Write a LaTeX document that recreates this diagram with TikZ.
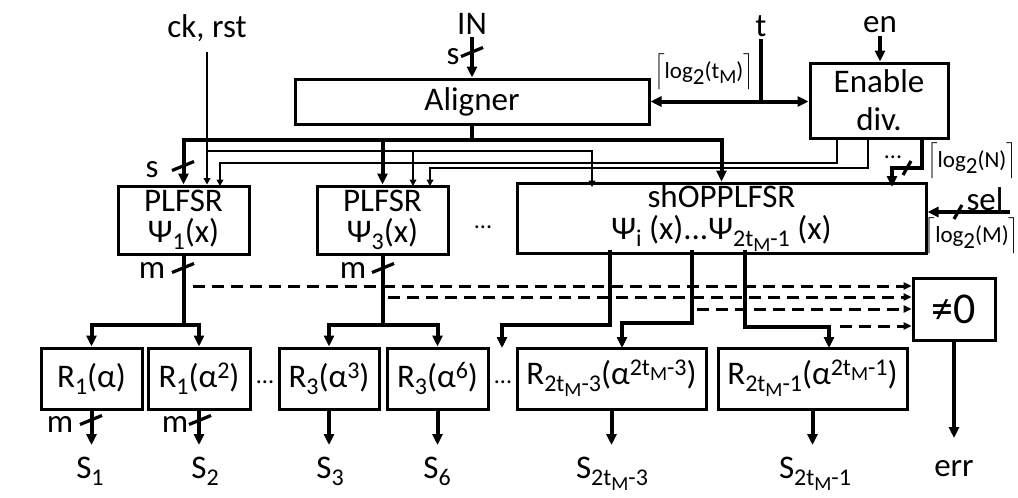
\documentclass[tikz,border=0pt]{standalone}
\usepackage{fontspec}
\setmainfont{Carlito}
\usetikzlibrary{positioning,arrows.meta,calc}
\newcommand{\lowtxt}[1]{\raisebox{-3.5pt}{\fontsize{12}{12}\selectfont #1}}
\newcommand{\hightxt}[1]{\raisebox{4.5pt}{\fontsize{12}{12}\selectfont #1}}
\newcommand{\tinysub}[1]{\raisebox{-2.5pt}{\fontsize{10}{10}\selectfont #1}}
\newcommand{\ceillbl}[1]{$\left\lceil\rule[-4pt]{0pt}{16pt}\hbox{\fontsize{11.5}{11.5}\selectfont #1}\right\rceil$}
\newcommand{\vslash}[1]{\draw[line width=1.6pt] ($(#1)+(-11,4.5)$) -- ($(#1)+(11,-4.5)$);}
\newcommand{\hslash}[1]{\draw[line width=1.6pt] ($(#1)+(-4,7)$) -- ($(#1)+(4,-7)$);}
\tikzset{
  blk/.style={draw, line width=1.5pt, align=center, inner sep=1pt,
              font=\fontsize{16.5}{15.5}\selectfont},
  lbl/.style={font=\fontsize{16.5}{18}\selectfont, inner sep=1pt},
  small/.style={font=\fontsize{12}{12}\selectfont, inner sep=0pt},
  bus/.style={line width=2pt},
  busarr/.style={bus, -{Triangle[length=5.5pt,width=5pt]}},
  dblarr/.style={bus, {Triangle[length=5.5pt,width=5pt]}-{Triangle[length=5.5pt,width=5pt]}},
  wire/.style={line width=0.6pt},
  wirearr/.style={wire, -{Triangle[length=3.2pt,width=3.4pt]}},
  dasharr/.style={line width=1.5pt, dash pattern=on 6pt off 3.5pt,
                  -{Triangle[length=4pt,width=3.6pt]}},
}
\begin{document}
\begin{tikzpicture}[x=0.5pt, y=-0.5pt]
\useasboundingbox (0,0) rectangle (1018,498);

% ---------------------------------------------------------------- blocks
\node[blk, minimum width=177pt, minimum height=22.5pt] (aligner) at (472,101.5) {Aligner};
\node[blk, minimum width=69pt, minimum height=37.5pt,
      font=\fontsize{16.5}{19}\selectfont] (enable) at (879,100.5) {Enable\\div.};
\node[blk, minimum width=65.5pt, minimum height=34pt] (plfsrA) at (183.5,220)
  {PLFSR\\Ψ\lowtxt{1}(x)};
\node[blk, minimum width=65.5pt, minimum height=34pt] (plfsrB) at (382.5,220)
  {PLFSR\\Ψ\lowtxt{3}(x)};
\node[small] (dotsP) at (483,227) {...};
\node[blk, minimum width=204.5pt, minimum height=31.5pt,
      font=\fontsize{16.5}{16}\selectfont] (shopp) at (721.5,218.5)
  {shOPPLFSR\\Ψ\lowtxt{i} (x)...Ψ\lowtxt{2t\tinysub{M}-1} (x)};
\node[blk, minimum width=41pt, minimum height=31pt,
      font=\fontsize{22}{22}\selectfont] (nz) at (954,309) {≠0};

% ---------------------------------------------------------------- syndrome blocks
\node[blk, minimum width=50.5pt, minimum height=30.5pt] (r1a) at (91.5,378.5) {R\lowtxt{1}(α)};
\node[blk, minimum width=51pt, minimum height=30.5pt] (r1b) at (199,378.5) {R\lowtxt{1}(α\hightxt{2})};
\node[small] (dotsA) at (265,382) {...};
\node[blk, minimum width=50pt, minimum height=30.5pt] (r3a) at (329,378.5) {R\lowtxt{3}(α\hightxt{3})};
\node[blk, minimum width=50.5pt, minimum height=30.5pt] (r3b) at (437.5,378.5) {R\lowtxt{3}(α\hightxt{6})};
\node[small] (dotsB) at (503,382) {...};
\node[blk, minimum width=94.5pt, minimum height=30.5pt] (rxa) at (611.5,378.5)
  {R\lowtxt{2t\tinysub{M}-3}(α\hightxt{2t\tinysub{M}-3})};
\node[blk, minimum width=94.5pt, minimum height=30.5pt] (rxb) at (812.5,378.5)
  {R\lowtxt{2t\tinysub{M}-1}(α\hightxt{2t\tinysub{M}-1})};

% ---------------------------------------------------------------- inputs
\node[lbl] (ckrst) at (207,28) {ck, rst};
\node[lbl] (inlbl) at (472,24) {IN};
\node[lbl] (tlbl) at (761,26) {t};
\node[lbl] (enlbl) at (880,25) {en};
\node[lbl] (sellbl) at (985,199) {sel};
\node[small] (logt) at (704,72) {\ceillbl{log\raisebox{-3pt}{2}(t\tinysub{M})}};
\node[small] (logn) at (972,161) {\ceillbl{log\raisebox{-3pt}{2}(N)}};
\node[small] (logm) at (972,236) {\ceillbl{log\raisebox{-3pt}{2}(M)}};
\coordinate (selin) at (1010,212);

\draw[busarr] (inlbl.south) -- (inlbl.south |- aligner.north);
\vslash{472,52}
\node[lbl] (sIN) at (453,57) {s};

\draw[bus] (tlbl.south) -- (tlbl.south |- aligner.east);
\draw[dblarr] (aligner.east) -- (aligner.east -| enable.west);
\draw[busarr] (enlbl.south) -- (enlbl.south |- enable.north);

\draw[busarr] (selin) -- (selin -| shopp.east);
\hslash{958,212}

% ---------------------------------------------------------------- aligned data bus
\coordinate (sbus) at (472,140);
\draw[bus] (aligner.south) -- (sbus);
\draw[busarr] (sbus) -| (plfsrA.north);
\draw[busarr] (sbus) -| (shopp.north);
\draw[busarr] (sbus -| plfsrB.north) -- (plfsrB.north);
\vslash{183,166}
\node[lbl] (sA) at (152,170) {s};

% ---------------------------------------------------------------- clock / reset
\coordinate (ckj) at (207,151);
\coordinate (ckB) at (413,186);
\coordinate (ckS) at (592,187);
\draw[wirearr, shorten <=4pt] (ckrst.south) -- (ckrst.south |- plfsrA.north);
\draw[wirearr] (ckj) -| (ckS);
\draw[wirearr] (ckj -| ckB) -- (ckB);

% ---------------------------------------------------------------- enables
\coordinate (enA) at (837,138);
\coordinate (enB) at (868,138);
\coordinate (enC) at (922,138);
\coordinate (inA) at (220,186);
\coordinate (inB) at (430,186);
\coordinate (inS) at (892,187);
\draw[wirearr] (enA) -- ++(0,25) -| (inA);
\draw[wirearr] (enB) -- ++(0,30) -| (inB);
\draw[busarr] (enC) -- ++(0,30) -| (inS);
\hslash{907,168}
\node[small] (endots) at (893,157) {...};

% ---------------------------------------------------------------- PLFSR outputs
\draw[bus] (plfsrA.south) -- ++(0,69) coordinate (jA);
\draw[busarr] (jA) -| (r1a.north);
\draw[busarr] (jA) -| (r1b.north);
\vslash{183,268}
\node[lbl] (mA) at (152,270) {m};

\draw[bus] (plfsrB.south) -- ++(0,69) coordinate (jB);
\draw[busarr] (jB) -| (r3a.north);
\draw[busarr] (jB) -| (r3b.north);
\vslash{383,268}
\node[lbl] (mB) at (353,270) {m};

\coordinate (oA) at (610,250);
\coordinate (oB) at (692,250);
\coordinate (oC) at (745,250);
\coordinate (dotin) at (502,348);
\coordinate (rxaIn) at (622,348);
\coordinate (rxbIn) at (829,348);
\draw[busarr] (oA) -- ++(0,75) -| (dotin);
\draw[busarr] (oB) -- ++(0,73) -| (rxaIn);
\draw[busarr] (oC) -- ++(0,77) -| (rxbIn);

% ---------------------------------------------------------------- zero check
\coordinate (tapA) at (193,286);
\coordinate (tapB) at (388,297);
\coordinate (tapC) at (697,309);
\coordinate (tapD) at (840,326);
\foreach \tp in {tapA,tapB,tapC,tapD}
  \draw[dasharr] (\tp) -- (\tp -| nz.west);

% ---------------------------------------------------------------- outputs
\node[lbl, anchor=north, inner sep=0pt] (s1) at (90,457) {S\lowtxt{1}};
\node[lbl, anchor=north, inner sep=0pt] (s2) at (205,457) {S\lowtxt{2}};
\node[lbl, anchor=north, inner sep=0pt] (s3) at (330,457) {S\lowtxt{3}};
\node[lbl, anchor=north, inner sep=0pt] (s6) at (437,457) {S\lowtxt{6}};
\node[lbl, anchor=north, inner sep=0pt] (sx3) at (612,457) {S\lowtxt{2t\tinysub{M}-3}};
\node[lbl, anchor=north, inner sep=0pt] (sx1) at (815,457) {S\lowtxt{2t\tinysub{M}-1}};
\node[lbl, anchor=north, inner sep=0pt] (err) at (954,460) {err};
\draw[busarr, shorten >=6pt] (r1a.south) -- (r1a.south |- s1.north);
\draw[busarr, shorten >=6pt] (r1b.south) -- (r1b.south |- s2.north);
\draw[busarr, shorten >=6pt] (r3a.south) -- (r3a.south |- s3.north);
\draw[busarr, shorten >=6pt] (r3b.south) -- (r3b.south |- s6.north);
\draw[busarr, shorten >=6pt] (rxa.south) -- (rxa.south |- sx3.north);
\draw[busarr, shorten >=6pt] (rxb.south) -- (rxb.south |- sx1.north);
\draw[busarr, shorten >=11pt] (nz.south) -- (nz.south |- err.north);
\vslash{91,420}
\node[lbl] (mR1) at (60,424) {m};
\vslash{200,420}
\node[lbl] (mR2) at (175,424) {m};

\end{tikzpicture}
\end{document}
